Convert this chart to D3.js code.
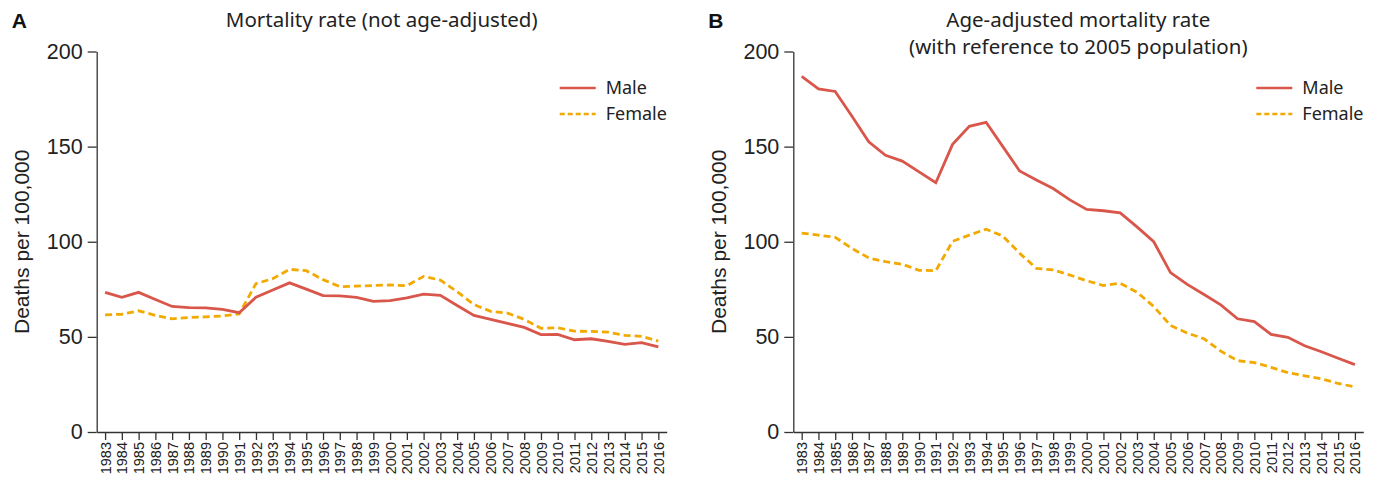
<script src="https://cdn.jsdelivr.net/npm/d3@7"></script>
<style>
  body { margin: 0; background: #fff; }
</style>
<div id="chart"></div>
<script>

// data
var years = d3.range(1983, 2017).map(String);

var maleCrude = [73.4, 70.8, 73.4, 69.6, 66.0, 65.4, 65.2, 64.4, 62.7, 70.8,
                 74.6, 78.4, 75.1, 71.7, 71.5, 70.8, 68.7, 69.1, 70.5, 72.5,
                 71.8, 66.5, 61.3, 59.2, 57.1, 55.0, 51.2, 51.3, 48.5, 49.0,
                 47.6, 46.1, 47.0, 44.7];
var femaleCrude = [61.6, 61.9, 63.7, 61.3, 59.5, 60.2, 60.5, 61.0, 62.1, 78.0,
                   80.6, 85.5, 84.8, 80.1, 76.4, 76.7, 77.0, 77.3, 76.9, 81.8,
                   79.8, 73.8, 67.0, 63.4, 62.5, 59.2, 54.5, 54.8, 53.0, 52.9,
                   52.5, 50.8, 50.3, 47.8];
var maleAdj = [186.9, 180.3, 179.0, 166.0, 152.5, 145.4, 142.4, 136.7, 131.0, 151.2,
               160.7, 162.8, 150.0, 137.2, 132.5, 128.0, 122.0, 117.0, 116.3, 115.2,
               107.8, 100.0, 83.8, 77.6, 72.3, 66.8, 59.5, 58.0, 51.3, 49.8,
               45.3, 42.2, 38.8, 35.4];
var femaleAdj = [104.5, 103.5, 102.3, 96.5, 91.5, 89.5, 88.2, 85.0, 84.8, 100.2,
                 103.5, 106.6, 103.0, 94.0, 86.0, 85.2, 82.5, 79.5, 77.0, 78.2,
                 73.5, 66.0, 56.0, 52.0, 49.0, 42.5, 37.5, 36.5, 34.0, 31.2,
                 29.5, 28.0, 25.5, 23.7];
var yTicks = [0, 50, 100, 150, 200];

var red = "#d9564b", gold = "#f2a900";

var W = 1377, H = 478;
var plotTop = 51.5, plotBottom = 432, plotW = 570;

var svg = d3.select("#chart")
  .append("svg")
    .attr("width", W)
    .attr("height", H)
    .style("font-family", "'Liberation Sans', Arial, sans-serif");

// one panel
function drawPanel(left, letter, titleLines, male, female) {
  var g = svg.append("g")
    .attr("transform", "translate(" + left + ",0)");

  var x = d3.scalePoint()
    .domain(years)
    .range([0, plotW])
    .padding(0.5);

  var y = d3.scaleLinear()
    .domain([0, 200])
    .range([plotBottom, plotTop]);

  // y axis
  var ya = g.append("g")
    .call(d3.axisLeft(y).tickValues(yTicks).tickSize(9).tickSizeOuter(0).tickPadding(5));
  ya.selectAll("text").style("font-size", "21.5px").attr("fill", "#222");
  ya.selectAll("line, path").attr("stroke", "#333").attr("stroke-width", 1.3);

  // x axis
  var xa = g.append("g")
    .attr("transform", "translate(0," + plotBottom + ")")
    .call(d3.axisBottom(x).tickSize(8).tickSizeOuter(0));
  xa.selectAll("line, path").attr("stroke", "#333").attr("stroke-width", 1.3);
  xa.selectAll("text")
    .style("font-size", "14.5px")
    .attr("fill", "#222")
    .attr("transform", "rotate(-90)")
    .attr("x", -10)
    .attr("y", 0)
    .attr("dy", "0.35em")
    .style("text-anchor", "end");

  // y label
  g.append("text")
    .attr("transform", "translate(" + (-75) + "," + ((plotTop + plotBottom) / 2) + ")rotate(-90)")
    .attr("text-anchor", "middle")
    .attr("dy", "0.35em")
    .style("font-size", "21px")
    .attr("fill", "#222")
    .text("Deaths per 100,000");

  // panel letter
  svg.append("text")
    .attr("x", left - 85)
    .attr("y", 28)
    .style("font-family", "'Liberation Sans', Arial, sans-serif")
    .style("font-weight", "bold")
    .style("font-size", "21px")
    .attr("fill", "#111")
    .text(letter);

  // title
  titleLines.forEach(function(t, i) {
    g.append("text")
      .attr("x", plotW / 2)
      .attr("y", 27 + i * 27)
      .attr("text-anchor", "middle")
      .style("font-family", "'Noto Sans', sans-serif")
      .style("font-size", "20.5px")
      .attr("fill", "#222")
      .text(t);
  });

  var line = d3.line()
    .x(function(d, i) { return x(years[i]); })
    .y(function(d) { return y(d); });

  g.append("path")
    .datum(female)
    .attr("fill", "none")
    .attr("stroke", gold)
    .attr("stroke-width", 2.8)
    .attr("stroke-dasharray", "7,4")
    .attr("d", line);

  g.append("path")
    .datum(male)
    .attr("fill", "none")
    .attr("stroke", red)
    .attr("stroke-width", 2.8)
    .attr("d", line);

  // legend
  var leg = [
    {name: "Male", color: red, dash: null},
    {name: "Female", color: gold, dash: "5,3"}
  ];
  leg.forEach(function(d, i) {
    var ly = 88 + i * 26;
    g.append("line")
      .attr("x1", 463).attr("x2", 499)
      .attr("y1", ly).attr("y2", ly)
      .attr("stroke", d.color)
      .attr("stroke-width", 2.5)
      .attr("stroke-dasharray", d.dash);
    g.append("text")
      .attr("x", 509)
      .attr("y", ly)
      .attr("dy", "0.35em")
      .style("font-family", "'Noto Sans', sans-serif")
      .style("font-size", "18px")
      .attr("fill", "#222")
      .text(d.name);
  });
}

drawPanel(96.7, "A", ["Mortality rate (not age-adjusted)"], maleCrude, femaleCrude);
drawPanel(793.3, "B", ["Age-adjusted mortality rate", "(with reference to 2005 population)"], maleAdj, femaleAdj);

</script>
